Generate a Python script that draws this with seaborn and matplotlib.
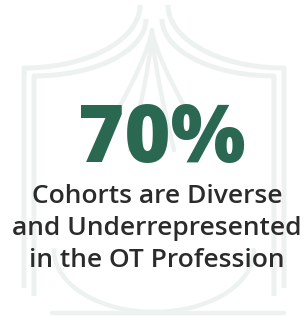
import numpy as np
import matplotlib
matplotlib.use('Agg')
import matplotlib.pyplot as plt
import seaborn as sns

# headline figure and caption
stat_value = 70
stat_suffix = '%'
caption_lines = ['Cohorts are Diverse', 'and Underrepresented', 'in the OT Profession']

green = '#2a6852'
ink = '#2b2b2b'
deco = '#edf2f0'

sns.set_theme(style='white')
plt.rcParams['font.family'] = ['Open Sans', 'DejaVu Sans']

fig = plt.figure(figsize=(3.08, 3.18), dpi=100)
ax = fig.add_axes([0, 0, 1, 1])
ax.set_xlim(0, 308)
ax.set_ylim(318, 0)
ax.axis('off')

# faint arch decoration behind the text
t = np.linspace(0, np.pi / 2, 60)
for cx, cy, rx, ry, bottom in [(24, 5, 116, 63, 288), (34, 19, 112, 57, 296)]:
    x = cx + rx * np.cos(t)
    y = cy + ry * np.sin(t)
    ax.plot(np.r_[x, cx], np.r_[y, bottom], color=deco, lw=3.6, solid_capstyle='butt', zorder=0)
    ax.plot(308 - np.r_[x, cx], np.r_[y, bottom], color=deco, lw=3.6, solid_capstyle='butt', zorder=0)

# central petals
s = np.linspace(0, 1, 60)
for w, top, end in [(40, 30, 120), (22, 34, 150)]:
    x = 152 - w * s ** 1.3
    y = top + (end - top) * s
    ax.plot(x, y, color=deco, lw=3.2, zorder=0)
    ax.plot(304 - x, y, color=deco, lw=3.2, zorder=0)

# bowl at the bottom
u = np.linspace(0, np.pi / 2, 60)
bx = 154 - 100 * np.sin(u)
by = 312 - 62 * (1 - np.cos(u))
ax.plot(bx, by, color=deco, lw=3.2, zorder=0)
ax.plot(308 - bx, by, color=deco, lw=3.2, zorder=0)
ax.plot([52, 284], [313, 313], color=deco, lw=3.2, zorder=0)

ax.text(162, 162, f'{stat_value}{stat_suffix}', color=green, fontsize=57,
        fontweight='heavy', ha='center', va='baseline', zorder=2)

for i, line in enumerate(caption_lines):
    ax.text(157, 203 + 32 * i, line, color=ink, fontsize=19,
            fontweight='semibold', ha='center', va='baseline', zorder=2)

fig.savefig('out.png', dpi=100, facecolor='white')
